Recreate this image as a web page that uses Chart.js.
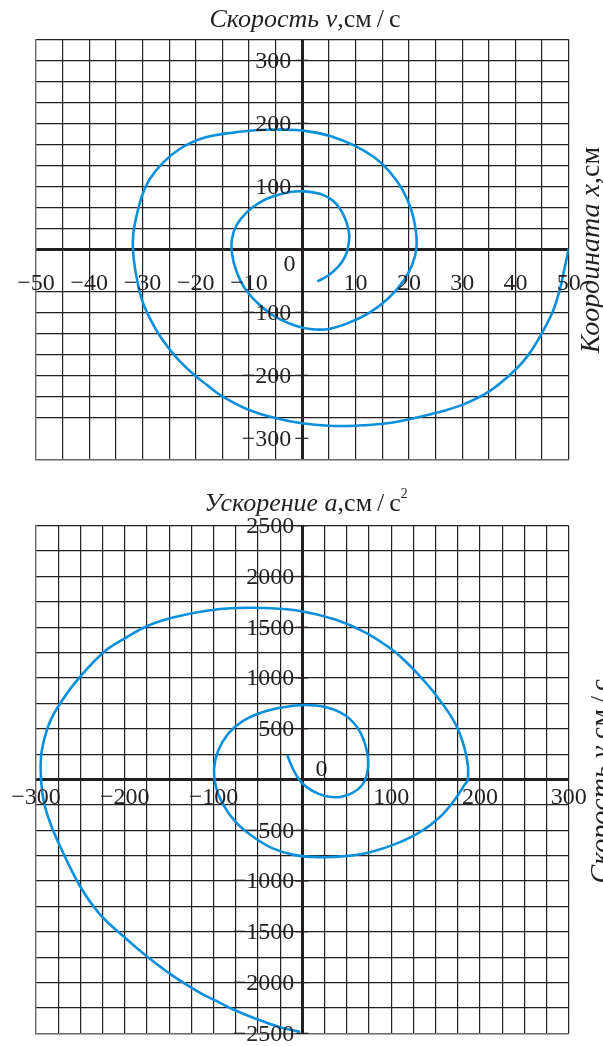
<!DOCTYPE html>
<html lang="ru">
  <head>
    <meta charset="utf-8" />
    <title>Фазовые портреты</title>
    <style>
      * {
        margin: 0;
        padding: 0;
      }
      body {
        width: 603px;
        height: 1046px;
        background: #fff;
        overflow: hidden;
      }
      canvas {
        display: block;
      }
    </style>
  </head>
  <body>
    <canvas id="topChart" width="603" height="480"></canvas>
    <canvas id="bottomChart" width="603" height="566"></canvas>

    <script src="https://cdn.jsdelivr.net/npm/chart.js"></script>

    <script>
      // --- top chart: coordinate x (cm) vs velocity v (cm/s)
      const topX = [
        2.8, 4.8, 6.7, 8.0, 8.6, 8.8, 8.2, 7.1, 5.6, 3.3, 0.5, -2.3, -5.1, -7.9,
        -10.4, -12.3, -13.2, -13.2, -12.4, -10.8, -8.3, -5.1, -1.4, 1.8, 5.2, 8.9,
        12.7, 16.1, 18.9, 20.6, 21.4, 21.3, 20.4, 18.7, 16.4, 13.5, 9.7, 5.2, 0.5,
        -4.2, -8.9, -13.2, -16.4, -19.2, -22.9, -26.1, -28.6, -30.1, -31.1, -31.7,
        -31.8, -31.4, -30.2, -28.6, -26.4, -23.5, -20.6, -17.8, -15.1, -10, -4.9,
        -0.1, 5, 9.9, 15.1, 18.3, 25, 30, 35, 39.9, 42.4, 44.9, 47.1, 48.3, 49.2, 50,
      ];
      const topV = [
        -51, -42, -28, -12, 4, 24, 45, 64, 78, 88, 92, 91, 85, 75, 59, 39, 17, -7,
        -34, -62, -86, -107, -121, -127, -126, -116, -100, -78, -51, -25, 1, 29, 64,
        96, 123, 146, 165, 180, 188, 190, 189, 185, 181, 175, 160, 138, 112, 85, 54,
        27, 1, -31, -78, -110, -142, -173, -197, -216, -233, -255, -268, -276, -280,
        -280, -277, -273, -260, -247, -226, -192, -168, -134, -97, -65, -31, 1,
      ];

      // --- bottom chart: velocity v (cm/s) vs acceleration a (cm/s^2)
      const bottomV = [
        -17, -10.5, -0.3, 12, 25.6, 42.5, 55.9, 67.2, 72.8, 74, 70.6, 61.6, 45.8,
        25.6, 3, -19.5, -44.3, -66.8, -83.7, -95, -99.5, -97.2, -89.3, -75.8, -56.6,
        -34, -8.2, 19.9, 48.1, 76.2, 104.4, 132.5, 155, 172, 182, 186.6, 184.7,
        173.5, 151, 128.4, 113.4, 101, 70.7, 37, -2.6, -42, -75.8, -109.6, -143.4,
        -174, -198, -224, -252.6, -269.5, -284.5, -293.2, -294.7, -291.7, -284.2,
        -273, -250.5, -228, -199.7, -175.3, -145.3, -115.2, -96.4, -77.7, -55.2,
        -25.1, -2.6,
      ];
      const bottomA = [
        241, 102, -36, -115, -163, -173, -135, -56, 52, 200, 350, 517, 645, 714,
        734, 714, 665, 577, 449, 280, 101, -76, -244, -412, -557, -676, -745, -765,
        -755, -716, -637, -518, -370, -194, -60, 3, 233, 529, 825, 1055, 1186, 1280,
        1450, 1575, 1660, 1689, 1689, 1660, 1600, 1515, 1400, 1252, 989, 793, 565,
        299, 85, -194, -424, -655, -1049, -1328, -1558, -1740, -1937, -2101, -2183,
        -2265, -2347, -2440, -2485,
      ];

      // tick labels
      const topXLabels = [-50, -40, -30, -20, -10, 10, 20, 30, 40, 50];
      const topYLabels = [300, 200, 100, -100, -200, -300];
      const bottomXLabels = [-300, -200, -100, 100, 200, 300];
      const bottomYLabels = [2500, 2000, 1500, 1000, 500, -500, -1000, -1500, -2000, -2500];

      const INK = "#231f20";
      const CURVE = "#0a8fdc";
      const SERIF = "'Liberation Serif', 'DejaVu Serif', serif";

      function fmt(v) {
        return v < 0 ? "\u2212" + Math.abs(v) : String(v);
      }

      // grid positions: x every 5 / 25, y every 100/3 / 250
      function steps(min, max, n) {
        const out = [];
        for (let i = 0; i <= n; i++) out.push(min + ((max - min) * i) / n);
        return out;
      }

      function gridScale(min, max, n, horizontal, skip) {
        return {
          type: "linear",
          min,
          max,
          afterBuildTicks(scale) {
            scale.ticks = steps(min, max, n).map((v) => ({ value: v }));
          },
          afterFit(scale) {
            if (horizontal) scale.height = 0;
            else scale.width = 0;
          },
          ticks: { display: false },
          border: { display: true, color: "#6d6a6a", width: 1.2 },
          grid: {
            drawTicks: false,
            color(ctx) {
              const v = ctx.tick.value;
              if (skip && skip.some((s) => Math.abs(s - v) < 1e-6)) return "rgba(0,0,0,0)";
              return INK;
            },
            lineWidth(ctx) {
              return Math.abs(ctx.tick.value) < 1e-6 ? 3 : 1.2;
            },
          },
        };
      }

      // draws axis numbers, titles and side captions
      function textPlugin(opts) {
        return {
          id: "texts",
          afterDraw(chart) {
            const { ctx, scales } = chart;
            const { x, y } = scales;
            const x0 = x.getPixelForValue(0);
            const y0 = y.getPixelForValue(0);
            ctx.save();
            ctx.fillStyle = INK;
            ctx.strokeStyle = INK;
            ctx.font = opts.numFont;

            // x numbers
            ctx.textAlign = "center";
            ctx.textBaseline = "alphabetic";
            opts.xLabels.forEach((v) => {
              ctx.fillText(fmt(v), x.getPixelForValue(v), y0 + opts.xLabelDy);
            });

            // y numbers, with a small tick on the axis
            ctx.textAlign = "right";
            ctx.textBaseline = "middle";
            ctx.lineWidth = 1.2;
            opts.yLabels.forEach((v) => {
              const py = y.getPixelForValue(v);
              ctx.fillText(fmt(v), x0 + opts.yLabelDx, py + 1);
              ctx.beginPath();
              ctx.moveTo(x0 - 7, py);
              ctx.lineTo(x0 + 6, py);
              ctx.stroke();
            });

            // zero
            ctx.textAlign = "center";
            ctx.textBaseline = "alphabetic";
            ctx.fillText("0", opts.zero[0], opts.zero[1]);

            // title: italic part + upright units
            drawMixed(ctx, opts.title, opts.titleX, opts.titleY);

            // rotated caption on the right
            ctx.save();
            ctx.translate(opts.sideX, opts.sideY);
            ctx.rotate(-Math.PI / 2);
            drawMixed(ctx, opts.side, 0, 0);
            ctx.restore();
            ctx.restore();
          },
        };
      }

      function drawMixed(ctx, parts, cx, by) {
        let total = 0;
        parts.forEach((p) => {
          ctx.font = p.font;
          total += ctx.measureText(p.t).width + (p.gap || 0);
        });
        let px = cx - total / 2;
        ctx.textAlign = "left";
        ctx.textBaseline = "alphabetic";
        parts.forEach((p) => {
          ctx.font = p.font;
          ctx.fillText(p.t, px, by + (p.dy || 0));
          px += ctx.measureText(p.t).width + (p.gap || 0);
        });
      }

      const ital = "italic 26px " + SERIF;
      const up = "26px " + SERIF;
      const sideItal = "italic 28px " + SERIF;
      const sideUp = "28px " + SERIF;
      const num = "24px " + SERIF;

      const topChart = new Chart(document.getElementById("topChart"), {
        type: "scatter",
        data: {
          datasets: [
            {
              data: topX.map((x, i) => ({ x, y: topV[i] })),
              showLine: true,
              borderColor: CURVE,
              borderWidth: 2.6,
              pointRadius: 0,
              tension: 0.4,
            },
          ],
        },
        options: {
          responsive: false,
          animation: false,
          layout: { padding: { left: 36, right: 34.3, top: 39.3, bottom: 20.7 } },
          plugins: { legend: { display: false }, tooltip: { enabled: false } },
          scales: {
            x: gridScale(-50, 50, 20, true),
            y: gridScale(-1000 / 3, 1000 / 3, 20, false, [-100 / 3, -300]),
          },
        },
        plugins: [
          textPlugin({
            numFont: num,
            xLabels: topXLabels,
            yLabels: topYLabels,
            xLabelDy: 41,
            yLabelDx: -11,
            zero: [289.5, 271],
            title: [
              { t: "Скорость ", font: ital },
              { t: "v", font: ital },
              { t: ",см", font: up, gap: 5 },
              { t: "/", font: up, gap: 5 },
              { t: "с", font: up },
            ],
            titleX: 305,
            titleY: 27,
            side: [
              { t: "Координата ", font: sideItal },
              { t: "x", font: sideItal },
              { t: ",см", font: sideUp },
            ],
            sideX: 599,
            sideY: 250,
          }),
        ],
      });

      const bottomChart = new Chart(document.getElementById("bottomChart"), {
        type: "scatter",
        data: {
          datasets: [
            {
              data: bottomV.map((x, i) => ({ x, y: bottomA[i] })),
              showLine: true,
              borderColor: CURVE,
              borderWidth: 2.6,
              pointRadius: 0,
              tension: 0.4,
            },
          ],
        },
        options: {
          responsive: false,
          animation: false,
          layout: { padding: { left: 36, right: 34.3, top: 45.7, bottom: 12.7 } },
          plugins: { legend: { display: false }, tooltip: { enabled: false } },
          scales: {
            x: gridScale(-300, 300, 24, true),
            y: gridScale(-2500, 2500, 20, false),
          },
        },
        plugins: [
          textPlugin({
            numFont: num,
            xLabels: bottomXLabels,
            yLabels: bottomYLabels,
            xLabelDy: 24,
            yLabelDx: -8,
            zero: [321.5, 296],
            title: [
              { t: "Ускорение ", font: ital },
              { t: "a", font: ital },
              { t: ",см", font: up, gap: 5 },
              { t: "/", font: up, gap: 5 },
              { t: "с", font: up },
              { t: "2", font: "14px " + SERIF, dy: -13 },
            ],
            titleX: 306,
            titleY: 31,
            side: [
              { t: "Скорость ", font: sideItal },
              { t: "v", font: sideItal },
              { t: ",см", font: sideUp, gap: 5 },
              { t: "/", font: sideUp, gap: 5 },
              { t: "с", font: sideUp },
            ],
            sideX: 609,
            sideY: 301,
          }),
        ],
      });
    </script>
  </body>
</html>
